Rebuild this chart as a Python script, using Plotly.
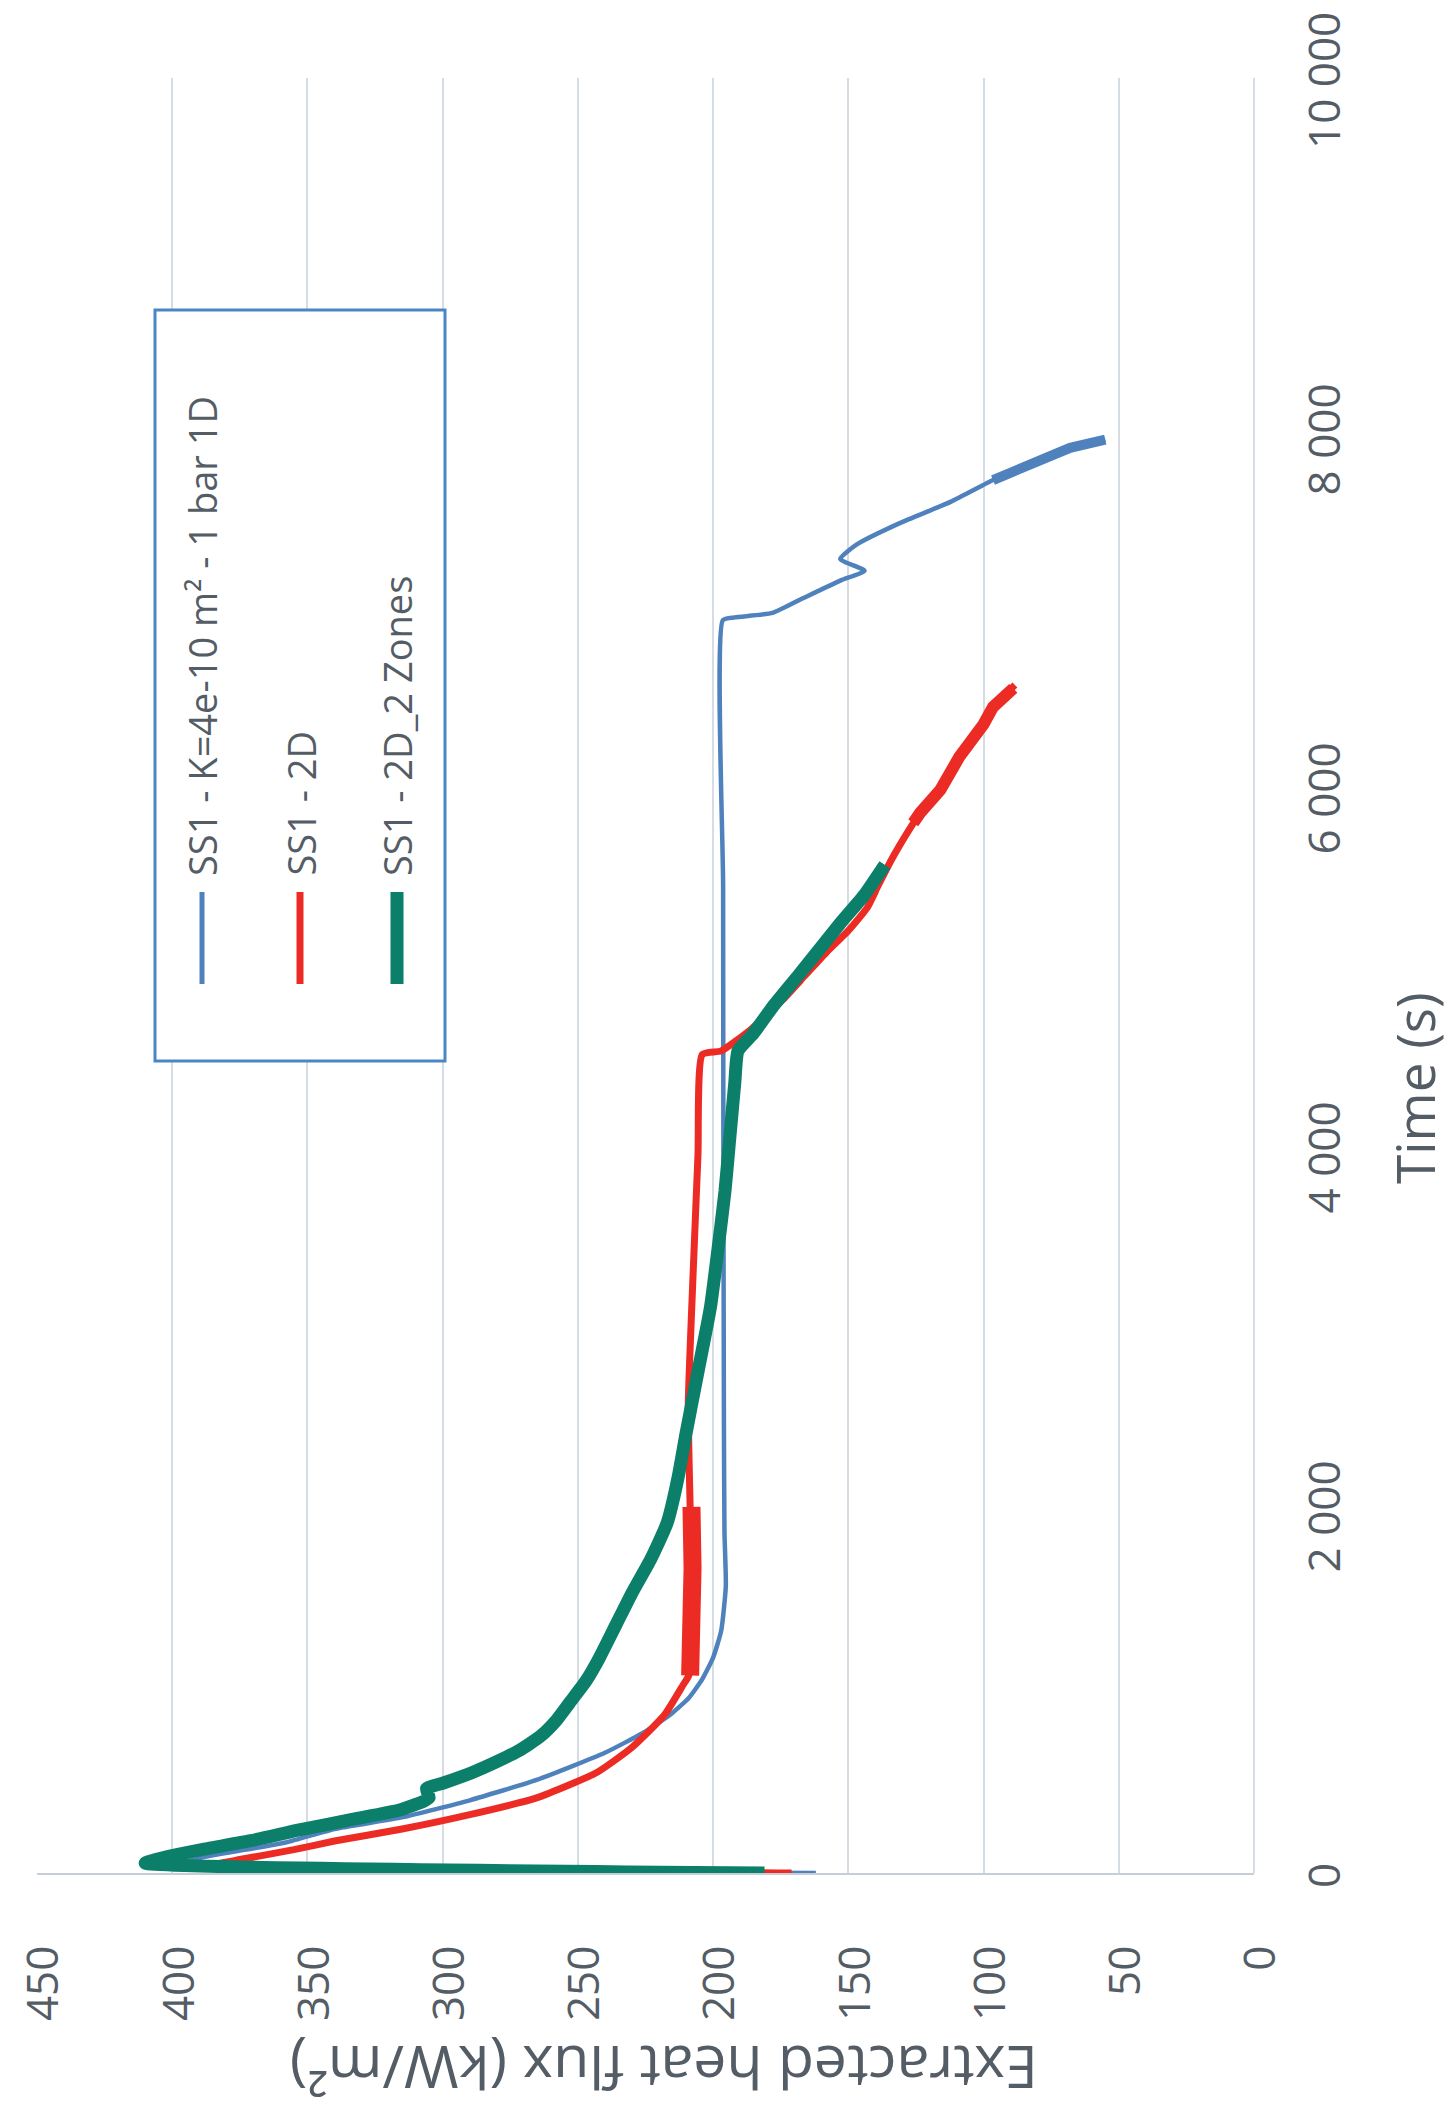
import plotly.graph_objects as go

# ---------------- data (time in s, extracted heat flux in kW/m2) ----------------
blue_name = "SS1 - K=4e-10 m² - 1 bar 1D"
blue_t = [0, 45, 90, 170, 245, 310, 405, 520, 670, 780, 880, 975, 1080, 1200, 1350, 1600, 1900, 2500, 4000,
          5500, 6980, 6995, 7020, 7100, 7200, 7255, 7320, 7400, 7520, 7640, 7760, 7800, 7850, 7900, 7940, 7985]
blue_f = [162, 398, 388, 358, 340, 315, 290, 265, 240, 226, 216, 209, 204, 200, 197, 195.3, 195.8, 196, 196.2,
          196.3, 196.4, 192, 178, 167, 153, 144, 153, 147, 131, 112, 96.5, 90, 83, 76, 68, 55]
blue_noise_t = [7760, 7800, 7850, 7900, 7940, 7985]
blue_noise_f = [96.5, 90, 83, 76, 68, 55]

red_name = "SS1 - 2D"
red_t = [0, 50, 75, 130, 178, 245, 325, 420, 560, 700, 880, 1050, 1100, 1600, 2040, 2600, 3300, 4000, 4560,
         4580, 4700, 4869, 5000, 5131, 5250, 5378, 5500, 5660, 5800, 5905, 6033, 6217, 6400, 6496, 6618]
red_f = [171, 383, 375, 355, 340, 315, 290, 265, 243, 230, 218, 211, 209, 208, 208.5, 209.2, 207.5, 205.6,
         204, 197, 186, 174, 166, 158, 150, 143, 139, 133.5, 128, 123.5, 116, 109, 100, 96.5, 88.4]
red_thick_t = [1100, 1400, 1700, 2040]
red_thick_f = [208.5, 207.8, 207.6, 208]
red_noise_t = [5850, 5905, 6033, 6217, 6400, 6496, 6600]
red_noise_f = [126, 123.5, 116, 109, 100, 96.5, 89]

green_name = "SS1 - 2D_2 Zones"
green_t = [0, 55, 90, 128, 180, 240, 300, 351, 400, 420, 470, 500, 560, 620, 680, 760, 850, 950, 1070, 1200,
           1380, 1560, 1750, 1950, 2200, 2450, 2800, 3150, 3500, 3800, 4100, 4400, 4580, 4680, 4825, 5000,
           5150, 5300, 5450, 5616]
green_f = [181, 410, 402, 390, 371, 353, 333, 316, 307, 305, 306, 300, 289, 280, 272, 264, 258, 253, 247, 242,
           236, 230, 223, 217, 213, 210, 205.5, 201, 198, 195.6, 193.8, 192, 190.8, 185, 178, 168.5, 160.5,
           152.5, 144, 136.5]

flux_ticks = [0, 50, 100, 150, 200, 250, 300, 350, 400, 450]
time_ticks = [0, 2000, 4000, 6000, 8000, 10000]
time_ticktext = ["0", "2\u00a0000", "4\u00a0000", "6\u00a0000", "8\u00a0000", "10\u00a0000"]

x_title = "Extracted heat flux (kW/m²)"
y_title = "Time (s)"

BLUE = "#4f82bd"
RED = "#ec2c24"
GREEN = "#0b7f69"
TXT = "#545d66"
GRID = "#d6dce3"
FONT = "Open Sans"

# page body has an 8px default margin
W, H = 1446, 2104
L, R, T, B = 29, 200, 70, 239
OFF = 8
PX0, PX1 = OFF + L, OFF + W - R          # plot area in page pixels (x)
PY0, PY1 = OFF + T, OFF + H - B          # plot area in page pixels (y)

SM = dict(shape="spline", smoothing=0.5)

fig = go.Figure()
fig.add_trace(go.Scatter(x=blue_f, y=blue_t, mode="lines", line=dict(color=BLUE, width=4.5, **SM),
                         name=blue_name))
fig.add_trace(go.Scatter(x=blue_noise_f, y=blue_noise_t, mode="lines", line=dict(color=BLUE, width=10),
                         showlegend=False))
fig.add_trace(go.Scatter(x=red_f, y=red_t, mode="lines", line=dict(color=RED, width=7, **SM), name=red_name))
fig.add_trace(go.Scatter(x=red_thick_f, y=red_thick_t, mode="lines", line=dict(color=RED, width=18),
                         showlegend=False))
fig.add_trace(go.Scatter(x=red_noise_f, y=red_noise_t, mode="lines", line=dict(color=RED, width=12),
                         showlegend=False))
fig.add_trace(go.Scatter(x=green_f, y=green_t, mode="lines", line=dict(color=GREEN, width=13, **SM),
                         name=green_name))


def px_to_paper(px, py):
    return (px - PX0) / (PX1 - PX0), (PY1 - py) / (PY1 - PY0)


shapes = []
annotations = []

# legend box
x0, y0 = px_to_paper(155, 1061)
x1, y1 = px_to_paper(445, 310)
shapes.append(dict(type="rect", xref="paper", yref="paper", x0=x0, y0=y0, x1=x1, y1=y1,
                   line=dict(color="#4a86c5", width=3), fillcolor="white", layer="above"))

legend_items = [(blue_name, BLUE, 5, 202), (red_name, RED, 7, 300), (green_name, GREEN, 13, 397)]
for name, col, w, px in legend_items:
    lx, ly0 = px_to_paper(px, 984)
    _, ly1 = px_to_paper(px, 892)
    shapes.append(dict(type="line", xref="paper", yref="paper", x0=lx, x1=lx, y0=ly0, y1=ly1,
                       line=dict(color=col, width=w), layer="above"))
    tx, ty = px_to_paper(px, 878)
    annotations.append(dict(text=name, xref="paper", yref="paper", x=tx, y=ty, xanchor="center",
                            yanchor="bottom", textangle=-90, showarrow=False,
                            font=dict(family=FONT, size=38, color=TXT)))

# axis titles
tx, ty = px_to_paper(664, 2069)
annotations.append(dict(text=x_title, xref="paper", yref="paper", x=tx, y=ty, xanchor="center",
                        yanchor="middle", textangle=180, showarrow=False,
                        font=dict(family=FONT, size=59, color=TXT)))
tx, ty = px_to_paper(1414, 1088)
annotations.append(dict(text=y_title, xref="paper", yref="paper", x=tx, y=ty, xanchor="center",
                        yanchor="middle", textangle=-90, showarrow=False,
                        font=dict(family=FONT, size=53, color=TXT)))

fig.update_layout(
    width=W, height=H,
    margin=dict(l=L, r=R, t=T, b=B, pad=0, autoexpand=False),
    paper_bgcolor="white", plot_bgcolor="white",
    showlegend=False,
    shapes=shapes, annotations=annotations,
    xaxis=dict(range=[450, 0], tickvals=flux_ticks, ticktext=[str(v) for v in flux_ticks],
               tickangle=-90, showgrid=True, gridcolor=GRID, gridwidth=2, zeroline=True,
               zerolinecolor=GRID, zerolinewidth=2, showline=True, linecolor="#c6ced8", linewidth=2,
               ticks="outside", ticklen=53, tickcolor="rgba(0,0,0,0)", ticklabeloverflow="allow",
               ticklabelshift=-7, automargin=False, tickfont=dict(family=FONT, size=44, color=TXT)),
    yaxis=dict(range=[0, 10000], side="right", tickvals=time_ticks, ticktext=time_ticktext,
               tickangle=-90, showgrid=False, zeroline=False, showline=False,
               ticks="outside", ticklen=32, tickcolor="rgba(0,0,0,0)", ticklabeloverflow="allow",
               ticklabelshift=9, automargin=False, tickfont=dict(family=FONT, size=44, color=TXT)),
)

fig.write_html("out.html")
